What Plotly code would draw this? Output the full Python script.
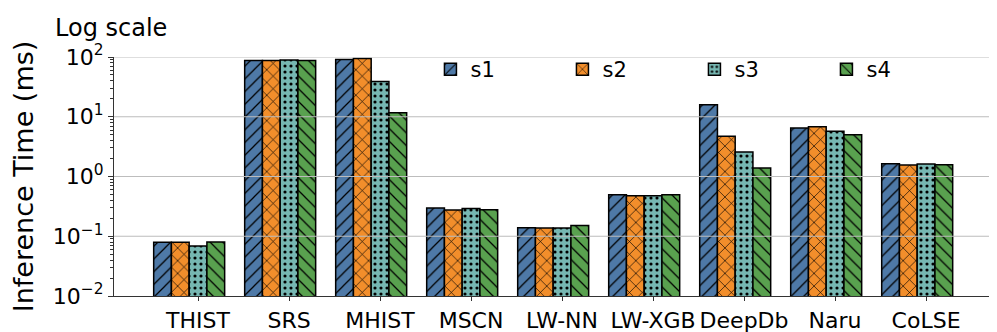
import plotly.graph_objects as go

categories = ["THIST", "SRS", "MHIST", "MSCN", "LW-NN", "LW-XGB", "DeepDb", "Naru", "CoLSE"]
series_names = ["s1", "s2", "s3", "s4"]
s1 = [0.079, 87, 91, 0.297, 0.139, 0.497, 15.9, 6.5, 1.64]
s2 = [0.079, 87, 94, 0.275, 0.138, 0.478, 4.7, 6.8, 1.56]
s3 = [0.069, 89, 39, 0.29, 0.138, 0.478, 2.57, 5.7, 1.62]
s4 = [0.080, 87, 11.7, 0.279, 0.152, 0.497, 1.39, 5.0, 1.58]
ytick_vals = [0.01, 0.1, 1, 10, 100]
ytick_text = ["10<sup>\u22122</sup>", "10<sup>\u22121</sup>", "10<sup>0</sup>", "10<sup>1</sup>", "10<sup>2</sup>"]

colors = ["#4e79a7", "#f28e2b", "#76b7b2", "#59a14f"]
shapes_pat = ["/", "x", ".", "\\"]
sizes = [9, 9, 6, 9]
solid = [0.14, 0.14, 0.22, 0.14]

FONT = "DejaVu Sans"
BAR_FRAC = 0.195           # width of one bar, in category units
TICK_SHIFT = BAR_FRAC / 2  # ticks sit under the third bar of each group, as in the original

xpos = list(range(len(categories)))
fig = go.Figure()
for name, vals, c, sh, sz, so in zip(series_names, [s1, s2, s3, s4], colors, shapes_pat, sizes, solid):
    fig.add_trace(go.Bar(
        name=name, x=xpos, y=vals,
        marker=dict(color=c, line=dict(color="black", width=1.5),
                    pattern=dict(shape=sh, fgcolor="black", bgcolor=c, size=sz, solidity=so, fillmode="replace")),
    ))

minor_vals = [m * 10 ** e for e in range(-2, 2) for m in range(2, 10)]

shapes = []
for v in [0.1, 1, 10, 100]:
    shapes.append(dict(type="line", xref="paper", yref="y", x0=0, x1=1, y0=v, y1=v,
                       line=dict(color="#bdbdbd", width=1.2), layer="above"))

fig.update_layout(
    width=997, height=332,
    margin=dict(l=106, r=12, t=49, b=44, autoexpand=False),
    plot_bgcolor="white", paper_bgcolor="white",
    barmode="group", bargap=1 - 4 * BAR_FRAC, bargroupgap=0,
    font=dict(family=FONT, size=20, color="black"),
    showlegend=True,
    legend=dict(orientation="h", x=0.360, y=1.033, xanchor="left", yanchor="top",
                font=dict(size=21, family=FONT), entrywidth=87, entrywidthmode="pixels",
                bgcolor="rgba(0,0,0,0)", itemwidth=30, traceorder="normal"),
    shapes=shapes,
    annotations=[dict(text="Log scale", xref="paper", yref="paper", x=-0.069, y=1.122,
                      xanchor="left", yanchor="middle", showarrow=False,
                      font=dict(size=24, family=FONT))],
)
fig.update_xaxes(
    tickmode="array", tickvals=[p + TICK_SHIFT for p in xpos], ticktext=categories,
    range=[-0.826, 8.833], showgrid=False, showline=True, linecolor="#333", linewidth=1.2,
    ticks="outside", ticklen=4, tickcolor="#333", tickfont=dict(size=22, family=FONT),
    zeroline=False, automargin=False,
)
fig.update_yaxes(
    type="log", range=[-2, 2], tickmode="array", tickvals=ytick_vals, ticktext=ytick_text,
    showgrid=False, showline=True, linecolor="#333", linewidth=1.2,
    ticks="outside", ticklen=5, tickcolor="#333", tickfont=dict(size=22, family=FONT),
    minor=dict(tickmode="array", tickvals=minor_vals, ticks="outside", ticklen=3, tickcolor="#333", showgrid=False),
    title=dict(text="Inference Time (ms)", font=dict(size=27, family=FONT), standoff=11),
    zeroline=False, automargin=False,
)
fig.write_html("out.html")
